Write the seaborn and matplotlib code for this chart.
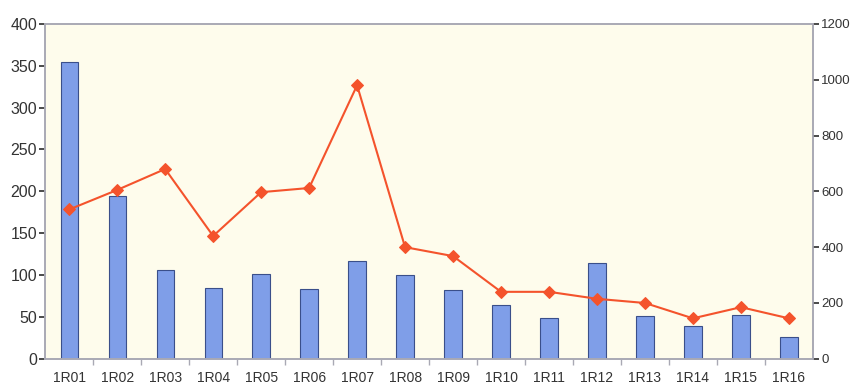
import numpy as np
import pandas as pd
import seaborn as sns
import matplotlib.pyplot as plt
from matplotlib.ticker import FixedLocator

# Data
reaches = ['1R01', '1R02', '1R03', '1R04', '1R05', '1R06', '1R07', '1R08',
           '1R09', '1R10', '1R11', '1R12', '1R13', '1R14', '1R15', '1R16']
bar_values = [355, 194, 106, 84, 101, 83, 117, 100, 82, 64, 49, 114, 51, 39, 52, 26]
line_values = [535, 605, 680, 440, 597, 612, 980, 400, 368, 240, 240, 215, 200, 145, 185, 145]

df = pd.DataFrame({'reach': reaches, 'bars': bar_values, 'line': line_values})

sns.set_theme(style='white')
plt.rcParams['font.family'] = ['Liberation Sans', 'DejaVu Sans']

fig = plt.figure(figsize=(8.53, 3.85), dpi=100)
ax = fig.add_axes([0.053, 0.068, 0.900, 0.870])
ax.set_facecolor('#fefcec')

# Bars on the left axis
sns.barplot(data=df, x='reach', y='bars', ax=ax, color='#7f9ee8',
            saturation=1, width=0.36, edgecolor='#3a4f8a', linewidth=0.8)
ax.set_ylim(0, 400)
ax.set_yticks(np.arange(0, 401, 50))
ax.set_xlim(-0.5, len(reaches) - 0.5)
ax.set_xlabel('')
ax.set_ylabel('')

# Line on the right axis
ax2 = ax.twinx()
sns.lineplot(data=df, x='reach', y='line', ax=ax2, color='#f4532c',
             marker='D', markersize=6, markeredgecolor='#f4532c', linewidth=1.5)
ax2.set_ylim(0, 1200)
ax2.set_yticks(np.arange(0, 1201, 200))
ax2.set_ylabel('')
ax2.set_xlim(-0.5, len(reaches) - 0.5)

for a in (ax, ax2):
    for side in a.spines:
        a.spines[side].set_color('#a9a9b4')
        a.spines[side].set_linewidth(1.2)

ax.tick_params(axis='y', labelsize=11.5, colors='#333333', length=4,
               direction='out', left=True, pad=2)
ax.tick_params(axis='x', labelsize=10, colors='#333333', length=0, pad=9)
ax.xaxis.set_minor_locator(FixedLocator(np.arange(0.5, len(reaches) - 0.5, 1)))
ax.tick_params(axis='x', which='minor', bottom=True, length=4, color='#a9a9b4')
ax2.tick_params(axis='y', labelsize=9.5, colors='#333333', length=4,
                direction='out', right=True, pad=2)

fig.savefig('out.png', dpi=100)
